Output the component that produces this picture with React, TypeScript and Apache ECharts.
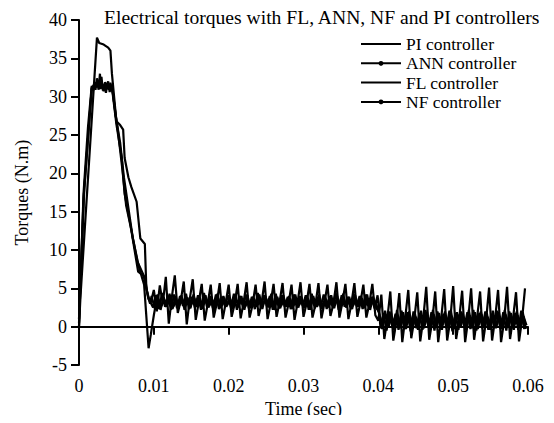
import React, { useEffect, useRef } from "react";
import * as echarts from "echarts";

// ---------- data ----------
const xTicks = [0, 0.01, 0.02, 0.03, 0.04, 0.05, 0.06];
const yRange = { min: -5, max: 40, interval: 5 };
const seriesNames = ["PI controller", "ANN controller", "FL controller", "NF controller"];
const dottedSeries = ["ANN controller", "NF controller"];

// transient part [time (s), torque (N.m)]
const piTransient = [
  [0, 0], [0.0002, 4], [0.0024, 37.7], [0.0027, 37.0], [0.0033, 36.8], [0.0039, 36.4],
  [0.0042, 36.0], [0.0044, 33.0], [0.005, 26.8], [0.0055, 26.3], [0.0059, 25.7],
  [0.0061, 22.0], [0.0066, 19.5], [0.007, 18.2], [0.0077, 16.3], [0.0082, 11.5],
  [0.0088, 10.8], [0.009, 5.0], [0.0093, 3.6],
];
const annTransient = [
  [0, 0], [0.0006, 17.3], [0.0012, 26], [0.0017, 31.4], [0.0019, 30.8], [0.0021, 31.9],
  [0.0023, 31.2], [0.0025, 32.2], [0.0026, 30.9], [0.0028, 33.0], [0.0029, 31.0],
  [0.0031, 31.8], [0.0033, 30.7], [0.0035, 31.9], [0.0037, 31.1], [0.0039, 32.0],
  [0.0041, 30.6], [0.0043, 31.5], [0.0045, 30.4], [0.005, 26.4], [0.0057, 22.1],
  [0.0061, 17.3], [0.0068, 13.7], [0.0079, 7.2], [0.0088, 6.5], [0.0092, 4.0], [0.0095, 3.0],
];
const flTransient = [
  [0, 1], [0.0006, 16.5], [0.0017, 31.2], [0.0025, 31.6], [0.0035, 31.2], [0.0045, 30.8],
  [0.0049, 27.5], [0.0055, 24.0], [0.006, 19.5], [0.0066, 15.5], [0.0072, 11.5],
  [0.008, 7.8], [0.0087, 5.5], [0.0093, -2.8], [0.0096, -1.0], [0.01, 1.5], [0.0104, 3.7],
];
const nfTransient = [
  [0, 0.5], [0.0007, 18], [0.0017, 31.0], [0.002, 31.6], [0.0022, 30.9], [0.0024, 32.4],
  [0.0027, 31.3], [0.003, 32.6], [0.0032, 30.8], [0.0034, 31.6], [0.0036, 30.5],
  [0.0038, 31.7], [0.004, 31.0], [0.0042, 31.8], [0.0045, 30.6], [0.0048, 28.4],
  [0.0052, 25.5], [0.0058, 20.5], [0.0063, 15.8], [0.007, 12.6], [0.0078, 8.5],
  [0.0086, 6.8], [0.0091, 4.6], [0.0094, 3.5],
];

// steady-state samples, every 0.4 ms
const SAMPLE_STEP = 0.0004;
const piSteadyStartA = 0.0096;
const piSteadyA = [
  3.2, 4.8, 2.0, 5.4, 3.0, 6.5, 0.4, 3.8, 6.7, 1.8,
  3.4, 5.9, 0.3, 3.6, 6.2, 0.9, 3.2, 5.6, 0.8, 3.0,
  5.5, 1.2, 3.0, 5.7, 1.0, 3.1, 5.5, 1.3, 3.0, 5.6,
  1.1, 3.2, 5.8, 1.2, 2.9, 5.5, 1.4, 3.1, 5.9, 1.0,
  3.0, 5.6, 1.3, 3.2, 5.7, 1.2, 3.0, 5.5, 0.9, 3.1,
  5.8, 1.3, 3.0, 5.6, 1.2, 2.9, 5.7, 1.1, 3.1, 5.5,
  1.4, 3.0, 5.8, 1.2, 3.2, 5.6, 1.0, 3.0, 5.7, 1.3,
  3.1, 5.5, 1.2, 3.0, 5.6, 1.5,
];
const piSteadyStartB = 0.04;
const piSteadyB = [
  0.8, 4.2, -1.6, 1.0, 4.6, -1.8, 0.6, 4.4, -2.0, 1.2,
  4.8, -1.5, 0.9, 4.5, -1.9, 1.0, 5.2, -1.7, 0.7, 4.6,
  -2.0, 1.1, 4.9, -1.8, 0.8, 5.3, -1.6, 1.0, 4.7, -2.0,
  0.9, 5.0, -1.7, 1.2, 4.6, -1.9, 0.8, 5.1, -1.8, 1.0,
  4.8, -2.0, 0.7, 5.2, -1.6, 1.1, 4.5, -1.9, 0.9, 5.0,
];
const annSteadyStartA = 0.0097;
const annSteadyA = [
  4.0, 2.4, 4.2, 2.2, 3.9, 2.6, 4.3, 2.3, 4.0, 2.5,
  4.1, 2.2, 3.8, 2.4, 4.2, 2.6, 4.0, 2.3, 4.1, 2.5,
  3.9, 2.2, 4.3, 2.4, 4.0, 2.6, 3.8, 2.3, 4.2, 2.5,
  4.0, 2.2, 4.1, 2.4, 3.9, 2.6, 4.2, 2.3, 4.0, 2.5,
  4.3, 2.2, 3.9, 2.4, 4.1, 2.6, 4.0, 2.3, 4.2, 2.5,
  3.8, 2.4, 4.1, 2.2, 4.0, 2.6, 4.2, 2.3, 3.9, 2.5,
  4.1, 2.4, 4.0, 2.2, 4.3, 2.5, 3.9, 2.3, 4.1, 2.6,
  4.0, 2.4, 4.2, 2.2, 3.9, 2.5,
];
const annSteadyStartB = 0.0401;
const annSteadyB = [
  1.9, -0.3, 2.1, -0.1, 1.8, -0.4, 2.2, -0.2, 1.9, -0.3,
  2.0, -0.1, 1.7, -0.4, 2.1, -0.2, 1.9, -0.3, 2.2, -0.1,
  1.8, -0.4, 2.0, -0.2, 2.1, -0.3, 1.9, -0.1, 1.7, -0.4,
  2.2, -0.2, 1.9, -0.3, 2.0, -0.1, 1.8, -0.4, 2.1, -0.2,
  1.9, -0.3, 2.2, -0.1, 1.8, -0.4, 2.0, -0.2, 1.9, -0.3,
];
const nfSteadyStartA = 0.0099;
const nfSteadyA = [
  2.5, 4.1, 2.3, 4.4, 2.6, 3.9, 2.2, 4.2, 2.4, 4.0,
  2.7, 4.3, 2.3, 3.9, 2.5, 4.1, 2.2, 4.4, 2.6, 4.0,
  2.4, 4.2, 2.3, 3.9, 2.7, 4.1, 2.5, 4.3, 2.2, 4.0,
  2.6, 4.2, 2.4, 3.9, 2.3, 4.4, 2.5, 4.1, 2.7, 4.0,
  2.2, 4.3, 2.4, 4.1, 2.6, 3.9, 2.3, 4.2, 2.5, 4.0,
  2.7, 4.1, 2.2, 4.3, 2.4, 3.9, 2.6, 4.2, 2.3, 4.0,
  2.5, 4.4, 2.2, 4.1, 2.6, 3.9, 2.4, 4.3, 2.7, 4.0,
  2.3, 4.2, 2.5, 3.9, 2.4, 4.1,
];
const nfSteadyStartB = 0.0403;
const nfSteadyB = [
  -0.2, 1.8, -0.5, 2.0, -0.1, 1.7, -0.4, 2.1, -0.3, 1.9,
  -0.6, 2.0, -0.2, 1.8, -0.4, 2.2, -0.1, 1.9, -0.5, 2.0,
  -0.3, 1.7, -0.2, 2.1, -0.6, 1.8, -0.4, 2.0, -0.1, 1.9,
  -0.3, 2.2, -0.5, 1.8, -0.2, 2.0, -0.4, 1.7, -0.1, 2.1,
  -0.3, 1.9, -0.5, 2.0, -0.2, 1.8, -0.4, 2.1, -0.3,
];
const flSteadyStartA = 0.0106;
const flSteadyA = [
  3.6, 2.7, 3.5, 2.9, 3.7, 2.6, 3.4, 2.8, 3.6, 2.7,
  3.5, 2.9, 3.7, 2.6, 3.4, 2.8, 3.6, 2.7, 3.5, 2.9,
  3.7, 2.6, 3.4, 2.8, 3.6, 2.7, 3.5, 2.9, 3.7, 2.6,
  3.4, 2.8, 3.6, 2.7, 3.5, 2.9, 3.7, 2.6, 3.4, 2.8,
  3.6, 2.7, 3.5, 2.9, 3.7, 2.6, 3.4, 2.8, 3.6, 2.7,
  3.5, 2.9, 3.7, 2.6, 3.4, 2.8, 3.6, 2.7, 3.5, 2.9,
  3.7, 2.6, 3.4, 2.8, 3.6, 2.7, 3.5, 2.9, 3.7, 2.6,
  3.4, 2.8, 3.6, 2.7,
];
const flSteadyStartB = 0.0402;
const flSteadyB = [
  1.4, 0.2, 1.6, 0.1, 1.3, 0.3, 1.5, 0.0, 1.4, 0.2,
  1.6, 0.1, 1.3, 0.3, 1.5, 0.2, 1.4, 0.0, 1.6, 0.1,
  1.3, 0.3, 1.5, 0.1, 1.4, 0.2, 1.6, 0.0, 1.3, 0.3,
  1.5, 0.1, 1.4, 0.2, 1.6, 0.3, 1.3, 0.0, 1.5, 0.1,
  1.4, 0.2, 1.6, 0.1, 1.3, 0.3, 1.5, 0.0, 1.4, 0.2,
];

const toPairs = (start: number, vals: number[]) =>
  vals.map((v, i) => [Number((start + i * SAMPLE_STEP).toFixed(5)), v]);

const FONT = "'Liberation Serif', 'Times New Roman', serif";

export default function App() {
  const ref = useRef<HTMLDivElement>(null);
  useEffect(() => {
    if (!ref.current) return;
    const chart = echarts.init(ref.current, null, { renderer: "svg" });
    const line = (name: string, data: number[][]) => ({
      name,
      type: "line",
      data,
      symbol: "circle",
      symbolSize: 5,
      showSymbol: false,
      lineStyle: { color: "#000", width: 2.2 },
      itemStyle: { color: "#000" },
      color: "#000",
      silent: true,
    });
    chart.setOption({
      animation: false,
      backgroundColor: "#fff",
      textStyle: { fontFamily: FONT, color: "#000" },
      title: {
        text: "Electrical torques with FL, ANN, NF and PI controllers",
        left: 99,
        top: 2,
        textStyle: { fontFamily: FONT, fontSize: 19.6, fontWeight: "normal", color: "#000" },
      },
      legend: {
        orient: "vertical",
        left: 355,
        top: 30,
        itemWidth: 40,
        itemHeight: 6,
        itemGap: 1.3,
        data: seriesNames.map((n) => ({
          name: n,
          itemStyle: dottedSeries.includes(n)
            ? { color: "#000", borderWidth: 0 }
            : { color: "rgba(0,0,0,0)", borderWidth: 0, borderColor: "rgba(0,0,0,0)" },
          lineStyle: { color: "#000", width: 2 },
        })),
        textStyle: {
          fontFamily: FONT,
          fontSize: 17.5,
          lineHeight: 17,
          color: "#000",
        },
      },
      grid: { left: 79, right: 26, top: 20, bottom: 57, containLabel: false },
      xAxis: {
        type: "value",
        min: xTicks[0],
        max: xTicks[xTicks.length - 1],
        interval: 0.01,
        name: "Time (sec)",
        nameLocation: "middle",
        nameGap: 34,
        nameTextStyle: { fontFamily: FONT, fontSize: 18, color: "#000" },
        axisLine: { lineStyle: { color: "#000", width: 2 } },
        axisTick: { length: 8, lineStyle: { color: "#000", width: 2 } },
        axisLabel: {
          fontFamily: FONT,
          fontSize: 18,
          color: "#000",
          margin: 12,
          formatter: (v: number) => (v === 0 ? "0" : v.toFixed(2)),
        },
        splitLine: { show: false },
      },
      yAxis: {
        type: "value",
        min: yRange.min,
        max: yRange.max,
        interval: yRange.interval,
        name: "Torques (N.m)",
        nameLocation: "middle",
        nameGap: 48,
        nameTextStyle: { fontFamily: FONT, fontSize: 18, color: "#000" },
        axisLine: { lineStyle: { color: "#000", width: 2 } },
        axisTick: { length: 8, lineStyle: { color: "#000", width: 2 } },
        axisLabel: { fontFamily: FONT, fontSize: 18, color: "#000", margin: 12 },
        splitLine: { show: false },
      },
      series: [
        line(seriesNames[0], [...piTransient, ...toPairs(piSteadyStartA, piSteadyA), ...toPairs(piSteadyStartB, piSteadyB)]),
        line(seriesNames[1], [...annTransient, ...toPairs(annSteadyStartA, annSteadyA), ...toPairs(annSteadyStartB, annSteadyB)]),
        line(seriesNames[2], [...flTransient, ...toPairs(flSteadyStartA, flSteadyA), ...toPairs(flSteadyStartB, flSteadyB)]),
        line(seriesNames[3], [...nfTransient, ...toPairs(nfSteadyStartA, nfSteadyA), ...toPairs(nfSteadyStartB, nfSteadyB)]),
      ],
    });
    return () => chart.dispose();
  }, []);
  return <div ref={ref} style={{ width: 554, height: 423, margin: -8 }} />;
}
